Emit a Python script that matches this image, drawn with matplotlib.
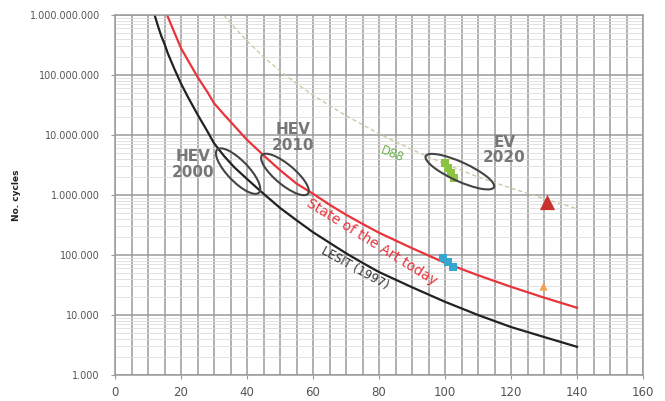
import numpy as np
import matplotlib
matplotlib.use("Agg")
import matplotlib.pyplot as plt
from matplotlib.patches import Ellipse
from matplotlib import transforms
from matplotlib.ticker import FuncFormatter, FixedLocator, MultipleLocator, NullFormatter

# ---- data ----
lesit_x = [12, 13, 14, 15, 16, 18, 20, 22, 25, 28, 30, 33, 36, 40, 45, 50, 55, 60,
           65, 70, 75, 80, 90, 100, 110, 120, 130, 140]
lesit_y = [1.0e9, 6.6e8, 4.5e8, 3.3e8, 2.3e8, 1.26e8, 7.2e7, 4.4e7, 2.2e7, 1.15e7,
           7.3e6, 4.5e6, 2.95e6, 1.85e6, 1.05e6, 6.1e5, 3.8e5, 2.4e5, 1.6e5, 1.07e5,
           7.4e4, 5.2e4, 2.9e4, 1.66e4, 1.0e4, 6.3e3, 4.3e3, 2.95e3]

sota_x = [15.8, 17, 18, 20, 22, 25, 28, 30, 33, 36, 40, 45, 50, 55, 60, 65, 70, 75,
          80, 90, 100, 110, 120, 130, 140]
sota_y = [1.0e9, 6.9e8, 5.1e8, 2.8e8, 1.8e8, 9.3e7, 5.2e7, 3.4e7, 2.2e7, 1.45e7,
          8.3e6, 4.6e6, 2.6e6, 1.55e6, 1.05e6, 6.9e5, 4.7e5, 3.3e5, 2.35e5, 1.3e5,
          7.4e4, 4.6e4, 2.95e4, 1.95e4, 1.32e4]

d88_x = [33, 36, 40, 45, 50, 55, 60, 70, 80, 90, 100, 110, 120, 130, 140]
d88_y = [1.0e9, 6.4e8, 3.7e8, 2.0e8, 1.17e8, 7.2e7, 4.6e7, 2.1e7, 1.05e7, 5.7e6,
         3.3e6, 2.0e6, 1.3e6, 8.7e5, 5.9e5]

green_x = [100, 101, 101.8, 102.6]
green_y = [3.4e6, 2.8e6, 2.3e6, 1.9e6]
blue_x = [99.5, 101, 102.5]
blue_y = [9.0e4, 7.5e4, 6.3e4]
redtri_x = [131]
redtri_y = [7.5e5]
orangetri_x = [129.7]
orangetri_y = [3.0e4]

ellipse_labels = ["HEV 2000", "HEV 2010", "EV 2020"]
ellipse_cx = [37.3, 51.5, 104.5]
ellipse_cy = [2.5e6, 2.2e6, 2.45e6]

x_ticks = [0, 20, 40, 60, 80, 100, 120, 140, 160]
y_ticks = [1e3, 1e4, 1e5, 1e6, 1e7, 1e8, 1e9]

# ---- figure ----
fig = plt.figure(figsize=(6.65, 4.01), dpi=100)
ax = fig.add_axes([115/665, 1-375/401, (643-115)/665, (375-15)/401])
ax.set_yscale("log")
ax.set_xlim(0, 160)
ax.set_ylim(1e3, 1e9)

ax.set_xticks(x_ticks)
ax.xaxis.set_minor_locator(MultipleLocator(5))
ax.yaxis.set_major_locator(FixedLocator(y_ticks))
y_minor = [d * m for d in y_ticks[:-1] for m in range(2, 10)]
ax.yaxis.set_minor_locator(FixedLocator(y_minor))
ax.yaxis.set_minor_formatter(NullFormatter())
ax.yaxis.set_major_formatter(FuncFormatter(lambda v, p: f"{int(round(v)):,}".replace(",", ".")))

ax.grid(True, which="major", axis="both", color="#9a9a9a", lw=1.1)
ax.grid(True, which="minor", axis="x", color="#9a9a9a", lw=1.1)
ax.grid(True, which="minor", axis="y", color="#dddddd", lw=0.6)
ax.set_axisbelow(True)
for s in ax.spines.values():
    s.set_color("#9a9a9a")
    s.set_linewidth(1.1)
ax.tick_params(axis="both", which="major", length=3, color="#9a9a9a", labelcolor="#555555")
ax.tick_params(axis="y", which="major", labelsize=7, pad=8)
ax.tick_params(axis="x", which="major", labelsize=8.5, pad=5)
ax.tick_params(which="minor", length=0, labelleft=False, labelbottom=False)

ax.set_ylabel("No. cycles", fontsize=6.5, fontweight="bold", color="#222222")
ax.yaxis.set_label_coords(-0.178, 0.5)

# curves
ax.plot(d88_x, d88_y, color="#c9caa8", lw=1.0, ls=(0, (3, 2)))
ax.plot(sota_x, sota_y, color="#e8343a", lw=1.6)
ax.plot(lesit_x, lesit_y, color="#222222", lw=1.6)

# markers
ax.scatter(green_x, green_y, marker="s", s=40, color="#8cc43f", zorder=4, linewidths=0)
ax.scatter(blue_x, blue_y, marker="s", s=35, color="#35a7cf", zorder=4, linewidths=0)
ax.scatter(redtri_x, redtri_y, marker="^", s=120, color="#c8302c", zorder=4, linewidths=0)
ax.scatter(orangetri_x, orangetri_y, marker="^", s=35, color="#f4a04c", zorder=4, linewidths=0)

# ellipses (sizes in inches, placed at data centers)
ell_w = [0.60, 0.60, 0.75]
ell_h = [0.21, 0.20, 0.19]
ell_ang = [-46, -40, -24.5]
for cx, cy, w, h, a in zip(ellipse_cx, ellipse_cy, ell_w, ell_h, ell_ang):
    tr = fig.dpi_scale_trans + transforms.ScaledTranslation(cx, cy, ax.transData)
    e = Ellipse((0, 0), width=w, height=h, angle=a, transform=tr,
                fill=False, edgecolor="#444444", lw=1.5, zorder=5)
    ax.add_patch(e)

# texts
lbl = dict(fontsize=11, fontweight="bold", color="#777777", ha="center", va="center",
           linespacing=1.05)
ax.text(23.6, 3.2e6, "HEV\n2000", **lbl)
ax.text(53.9, 9.0e6, "HEV\n2010", **lbl)
ax.text(118, 5.6e6, "EV\n2020", **lbl)

ax.text(77.9, 1.65e5, "State of the Art today", fontsize=10, color="#e8343a",
        rotation=-32, rotation_mode="anchor", ha="center", va="center")
ax.text(72.7, 6.0e4, "LESIT (1997)", fontsize=8.5, color="#333333",
        rotation=-29, rotation_mode="anchor", ha="center", va="center")
ax.text(84, 4.8e6, "D88", fontsize=8.5, color="#6ab04c",
        rotation=-22, rotation_mode="anchor", ha="center", va="center")

fig.savefig("out.png", dpi=100)
